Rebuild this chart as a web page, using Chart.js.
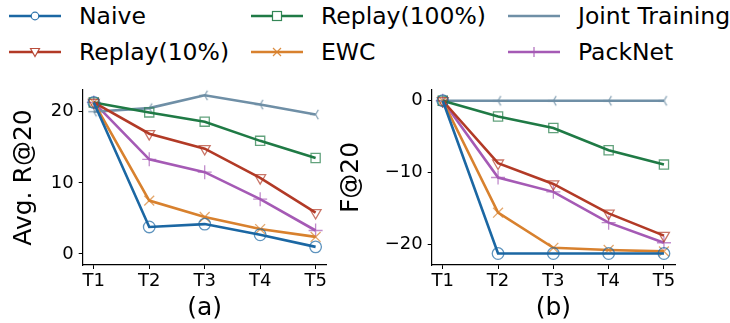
<!DOCTYPE html>
<html>
<head>
<meta charset="utf-8">
<script src="https://cdn.jsdelivr.net/npm/chart.js@4"></script>
<style>
  body { margin: 0; background: #fff; font-family: "DejaVu Sans", sans-serif; }
  #wrap { position: relative; width: 730px; height: 323px; overflow: hidden; }
  .leg { position: absolute; display: flex; align-items: center; font-size: 23.5px; color: #000; white-space: nowrap; }
  .leg svg { margin-right: 18px; }
  canvas { position: absolute; }
</style>
</head>
<body>
<div id="wrap">
  <div id="legend"></div>
  <div style="position:absolute;left:0;top:80px;width:345px;height:243px"><canvas id="chartA"></canvas></div>
  <div style="position:absolute;left:330px;top:80px;width:400px;height:243px"><canvas id="chartB"></canvas></div>
</div>
<script>
const tasks = ['T1', 'T2', 'T3', 'T4', 'T5'];

// (a) Avg. R@20
const recallNaive     = [21.3, 3.8, 4.2, 2.7, 1.0];
const recallReplay10  = [21.3, 16.9, 14.8, 10.7, 5.8];
const recallReplay100 = [21.3, 19.9, 18.6, 15.9, 13.5];
const recallEWC       = [21.3, 7.5, 5.2, 3.5, 2.4];
const recallJoint     = [20.0, 20.5, 22.3, 21.0, 19.6];
const recallPackNet   = [21.3, 13.3, 11.5, 7.7, 3.3];

// (b) F@20
const forgetNaive     = [0, -21.3, -21.3, -21.3, -21.3];
const forgetReplay10  = [0, -8.7, -11.6, -15.7, -18.8];
const forgetReplay100 = [0, -2.2, -3.8, -6.9, -8.9];
const forgetEWC       = [0, -15.6, -20.5, -20.8, -21.0];
const forgetJoint     = [0, 0, 0, 0, 0];
const forgetPackNet   = [0, -10.7, -12.7, -17.0, -19.8];

const recallTicks = [0, 10, 20];
const forgetTicks = [-20, -10, 0];

const FONT = '"DejaVu Sans", sans-serif';

// tri_left marker (matplotlib '3')
function triLeft(color, size) {
  const c = document.createElement('canvas');
  c.width = size; c.height = size;
  const g = c.getContext('2d');
  const r = size / 2 - 1;
  g.strokeStyle = color; g.lineWidth = 1.3;
  g.translate(size / 2, size / 2);
  [180, 60, -60].forEach(a => {
    const t = a * Math.PI / 180;
    g.beginPath(); g.moveTo(0, 0); g.lineTo(r * Math.cos(t), -r * Math.sin(t)); g.stroke();
  });
  return c;
}

const series = [
  { label: 'Naive', color: '#1b67a3', marker: 'circle', r: 5.8, a: recallNaive, b: forgetNaive },
  { label: 'Replay(10%)', color: '#b23a26', marker: 'triangle', rot: 180, r: 6.3, a: recallReplay10, b: forgetReplay10 },
  { label: 'Replay(100%)', color: '#1f7a45', marker: 'rect', r: 6.5, a: recallReplay100, b: forgetReplay100 },
  { label: 'EWC', color: '#d8812e', marker: 'cross', rot: 45, r: 7, a: recallEWC, b: forgetEWC },
  { label: 'Joint Training', color: '#6f8fa6', marker: 'tri', r: 6, a: recallJoint, b: forgetJoint },
  { label: 'PackNet', color: '#a55ab5', marker: 'cross', r: 7, a: recallPackNet, b: forgetPackNet }
];

function fade(hex, alpha) {
  const n = parseInt(hex.slice(1), 16);
  return `rgba(${n >> 16},${(n >> 8) & 255},${n & 255},${alpha})`;
}

function makeDatasets(key) {
  return series.map(s => ({
    label: s.label,
    data: s[key].map((v, i) => ({ x: i, y: v })),
    borderColor: s.color,
    backgroundColor: 'rgba(255,255,255,0)',
    borderWidth: 2.6,
    pointStyle: s.marker === 'tri' ? triLeft(fade(s.color, 0.85), 13) : s.marker,
    pointRotation: s.rot || 0,
    pointRadius: s.r,
    pointBorderColor: fade(s.color, 0.7),
    pointBackgroundColor: 'rgba(255,255,255,0)',
    pointBorderWidth: 1.3,
    tension: 0,
    clip: false
  }));
}

function makeChart(id, key, yMin, yMax, yTicks, yTitle, xTitle, yWidth, padRight, titlePad) {
  return new Chart(document.getElementById(id), {
    type: 'line',
    data: { datasets: makeDatasets(key) },
    options: {
      responsive: true,
      maintainAspectRatio: false,
      animation: false,
      layout: { padding: { top: 10, right: padRight, left: 0, bottom: 0 } },
      plugins: { legend: { display: false }, tooltip: { enabled: false } },
      scales: {
        x: {
          type: 'linear',
          min: -0.2, max: 4.2,
          afterBuildTicks: s => { s.ticks = tasks.map((t, i) => ({ value: i })); },
          afterFit: s => { s.height = 58; s.paddingLeft = 0; s.paddingRight = 0; },
          ticks: { callback: v => tasks[v], color: '#000', font: { family: FONT, size: 18 }, padding: 2, maxRotation: 0 },
          grid: { drawOnChartArea: false, drawTicks: true, tickLength: 4, color: '#000' },
          border: { display: true, color: '#000', width: 1.2 },
          title: { display: true, text: xTitle, color: '#000', font: { family: FONT, size: 25 }, padding: { top: 0, bottom: 0 } }
        },
        y: {
          min: yMin, max: yMax,
          afterBuildTicks: s => { s.ticks = yTicks.map(v => ({ value: v })); },
          afterFit: s => { s.width = yWidth; s.paddingTop = 0; s.paddingBottom = 0; },
          ticks: { callback: v => String(v).replace('-', '\u2212'), color: '#000', font: { family: FONT, size: 18 }, padding: 5 },
          grid: { drawOnChartArea: false, drawTicks: true, tickLength: 4, color: '#000' },
          border: { display: true, color: '#000', width: 1.2 },
          title: { display: true, text: yTitle, color: '#000', font: { family: FONT, size: 25 }, padding: { top: titlePad, bottom: 0 } }
        }
      }
    }
  });
}

makeChart('chartA', 'a', -1.55, 23.05, recallTicks, 'Avg. R@20', '(a)', 82.7, 18.3, 9);
makeChart('chartB', 'b', -22.9, 1.5, forgetTicks, 'F@20', '(b)', 101.7, 55, 6.5);

// legend: 3 columns x 2 rows
const legendPos = [[9, 16], [9, 52], [251, 16], [251, 52], [508, 16], [508, 52]];
const legendSvg = {
  circle: c => `<circle cx="26" cy="12" r="3.8" fill="#fff" stroke="${fade(c, 0.9)}" stroke-width="1.2"/>`,
  triangle: c => `<polygon points="21.5,8.5 30.5,8.5 26,16.5" fill="#fff" stroke="${fade(c, 0.9)}" stroke-width="1.2"/>`,
  rect: c => `<rect x="21.5" y="7.5" width="9" height="9" fill="#fff" stroke="${fade(c, 0.9)}" stroke-width="1.2"/>`,
  cross: (c, rot) => rot ? `<path d="M22 8 L30 16 M30 8 L22 16" stroke="${fade(c, 0.9)}" stroke-width="1.2"/>` : `<path d="M26 7 L26 17 M21 12 L31 12" stroke="${fade(c, 0.9)}" stroke-width="1.2"/>`,
  tri: c => ''
};
const legendEl = document.getElementById('legend');
series.forEach((s, i) => {
  const [x, y] = legendPos[i];
  const d = document.createElement('div');
  d.className = 'leg';
  d.style.left = x + 'px';
  d.style.top = (y - 15) + 'px';
  d.style.height = '30px';
  d.innerHTML = `<svg width="52" height="24" viewBox="0 0 52 24"><line x1="0" y1="12" x2="52" y2="12" stroke="${s.color}" stroke-width="2.5"/>${legendSvg[s.marker](s.color, s.rot)}</svg><span>${s.label}</span>`;
  legendEl.appendChild(d);
});
</script>
</body>
</html>
